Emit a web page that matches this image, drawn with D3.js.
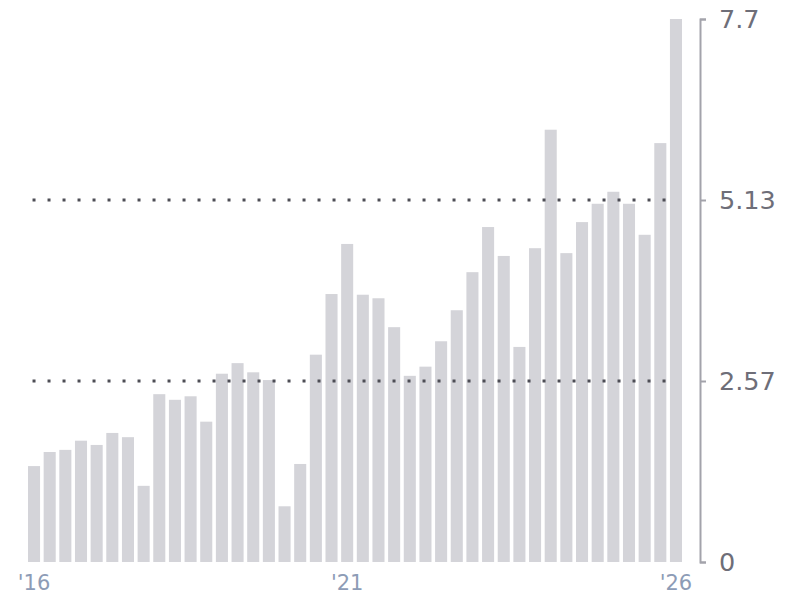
<!DOCTYPE html>
<html>
<head>
<meta charset="utf-8">
<script src="https://cdn.jsdelivr.net/npm/d3@7"></script>
<style>
  body { margin: 0; background: #fff; }
  svg { display: block; }
</style>
</head>
<body>
<div id="chart"></div>
<script>
// quarters 2016 Q1 .. 2026 Q2
const quarters = [
  "2016 Q1", "2016 Q2", "2016 Q3", "2016 Q4",
  "2017 Q1", "2017 Q2", "2017 Q3", "2017 Q4",
  "2018 Q1", "2018 Q2", "2018 Q3", "2018 Q4",
  "2019 Q1", "2019 Q2", "2019 Q3", "2019 Q4",
  "2020 Q1", "2020 Q2", "2020 Q3", "2020 Q4",
  "2021 Q1", "2021 Q2", "2021 Q3", "2021 Q4",
  "2022 Q1", "2022 Q2", "2022 Q3", "2022 Q4",
  "2023 Q1", "2023 Q2", "2023 Q3", "2023 Q4",
  "2024 Q1", "2024 Q2", "2024 Q3", "2024 Q4",
  "2025 Q1", "2025 Q2", "2025 Q3", "2025 Q4",
  "2026 Q1", "2026 Q2"
];

const values = [
  1.36, 1.56, 1.59, 1.72, 1.66, 1.83, 1.77, 1.08,
  2.38, 2.30, 2.35, 1.99, 2.67, 2.82, 2.69, 2.58,
  0.79, 1.39, 2.94, 3.80, 4.51, 3.79, 3.74, 3.33,
  2.64, 2.77, 3.13, 3.57, 4.11, 4.75, 4.34, 3.05,
  4.45, 6.13, 4.38, 4.82, 5.08, 5.25, 5.08, 4.64,
  5.94, 7.70
];

const xTickQuarters = ["2016 Q1", "2021 Q1", "2026 Q2"];
const xTickLabels = ["'16", "'21", "'26"];

const yMax = 7.7;
const yTicks = [0, yMax / 3, yMax * 2 / 3, yMax];
const yTickLabels = ["0", "2.57", "5.13", "7.7"];
const guideTicks = [yMax / 3, yMax * 2 / 3];

const width = 800,
  height = 600,
  plot = { left: 28, right: 682, top: 19, bottom: 562 },
  axisX = 700,
  font = "'DejaVu Sans', sans-serif";

const svg = d3.select("#chart")
  .append("svg")
  .attr("width", width)
  .attr("height", height);

const x = d3.scaleBand()
  .domain(quarters)
  .range([plot.left, plot.right])
  .paddingInner(0.23)
  .paddingOuter(0);

const y = d3.scaleLinear()
  .domain([0, yMax])
  .range([plot.bottom, plot.top]);

// bars
svg.append("g")
  .selectAll("rect")
  .data(values)
  .join("rect")
  .attr("x", (d, i) => x(quarters[i]))
  .attr("y", d => y(d))
  .attr("width", x.bandwidth())
  .attr("height", d => y(0) - y(d))
  .attr("fill", "#d4d4d9");

// dotted guide lines
const gx1 = x(quarters[0]) + x.bandwidth() / 2 - 1.5;
const gx2 = x(quarters[40]) + x.bandwidth() / 2 + 6;
svg.append("g")
  .selectAll("line")
  .data(guideTicks)
  .join("line")
  .attr("x1", gx1)
  .attr("x2", gx2)
  .attr("y1", d => y(d))
  .attr("y2", d => y(d))
  .attr("stroke", "#4d4d55")
  .attr("stroke-width", 3)
  .attr("stroke-dasharray", "3,12");

// y axis on the right
const yAxis = d3.axisRight(y)
  .tickValues(yTicks)
  .tickFormat((d, i) => yTickLabels[i])
  .tickSize(6)
  .tickSizeOuter(6)
  .tickPadding(13);

const yAxisGroup = svg.append("g")
  .attr("transform", `translate(${axisX},0)`)
  .call(yAxis)
  .attr("font-family", font)
  .attr("font-size", 25.5);

yAxisGroup.select(".domain")
  .attr("stroke", "#a3a3ab")
  .attr("stroke-width", 2);
yAxisGroup.selectAll(".tick line")
  .attr("stroke", "#a3a3ab")
  .attr("stroke-width", 2);
yAxisGroup.selectAll(".tick text")
  .attr("fill", "#6e6e78");

// x axis labels
const xAxis = d3.axisBottom(x)
  .tickValues(xTickQuarters)
  .tickFormat((d, i) => xTickLabels[i])
  .tickSize(0)
  .tickPadding(13);

const xAxisGroup = svg.append("g")
  .attr("transform", `translate(0,${plot.bottom})`)
  .call(xAxis)
  .attr("font-family", font)
  .attr("font-size", 21);

xAxisGroup.select(".domain").remove();
xAxisGroup.selectAll(".tick text")
  .attr("fill", "#8d9cb6");
</script>
</body>
</html>
